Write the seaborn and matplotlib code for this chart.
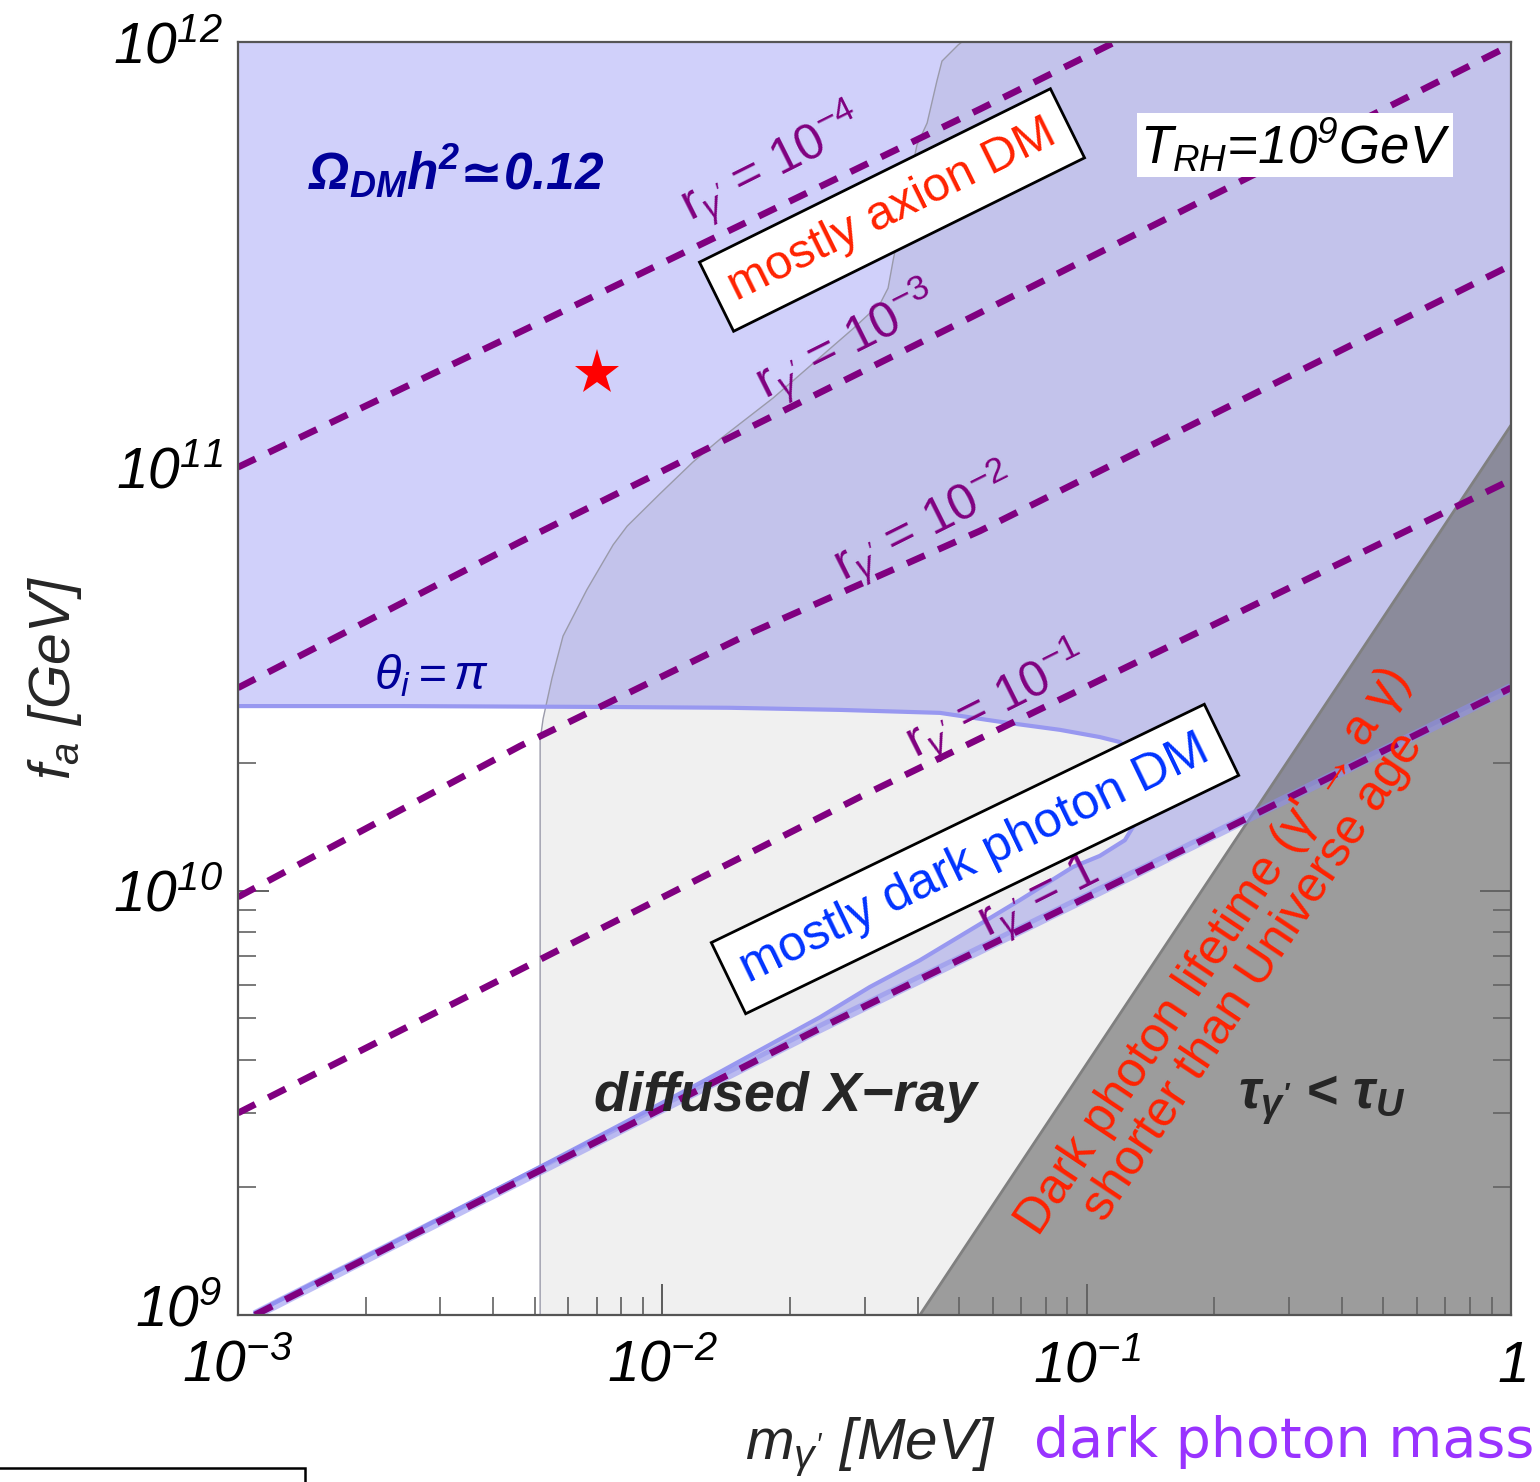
import numpy as np
import pandas as pd
import matplotlib
matplotlib.use("Agg")
import matplotlib.pyplot as plt
import matplotlib.transforms as mtransforms
import seaborn as sns

# ---------------- data (log10 values) ----------------
r_texts = ["10^{-4}", "10^{-3}", "10^{-2}", "10^{-1}", "1"]
r4_logm = [-3.0, -2.312, -1.251, -0.933]
r4_logf = [10.998, 11.328, 11.842, 12.0]
r3_logm = [-3.0, -2.335, -1.275, 0.0]
r3_logf = [10.478, 10.822, 11.350, 11.993]
r2_logm = [-3.0, -2.335, -1.786, -1.251, 0.0]
r2_logf = [9.985, 10.341, 10.610, 10.848, 11.474]
r1_logm = [-3.0, -1.534, 0.0]
r1_logf = [9.476, 10.221, 10.968]
r0_logm = [-2.960, -2.286, -1.628, -0.921, 0.0]
r0_logf = [9.000, 9.342, 9.676, 10.023, 10.478]

# theta_i = pi boundary of the relic-abundance region (continues as sliver above r=1)
theta_logm = [-3.0, -2.618, -2.147, -1.841, -1.581, -1.346, -1.204, -1.063, -0.969,
              -0.921, -0.879, -0.863, -0.874, -0.910, -0.969, -1.032, -1.157, -1.275,
              -1.393, -1.511, -1.628, -1.911, -2.265, -2.618, -2.960]
theta_logf = [10.435, 10.435, 10.433, 10.431, 10.426, 10.419, 10.398, 10.379, 10.362,
              10.350, 10.296, 10.237, 10.178, 10.119, 10.082, 10.056, 9.978, 9.907,
              9.836, 9.773, 9.702, 9.547, 9.361, 9.179, 9.005]

# diffuse X-ray bound
xray_logm = [-2.288, -2.288, -2.281, -2.260, -2.234, -2.178, -2.116, -2.083, -2.006,
             -1.928, -1.864, -1.739, -1.551, -1.487, -1.468, -1.456, -1.400, -1.376,
             -1.353, -1.341, -1.303, -1.294]
xray_logf = [9.0, 10.355, 10.405, 10.501, 10.600, 10.709, 10.815, 10.859, 10.935,
             11.010, 11.064, 11.161, 11.324, 11.383, 11.420, 11.486, 11.757, 11.809,
             11.908, 11.955, 11.993, 12.0]

# dark photon lifetime shorter than Universe age
life_logm = [-1.393, 0.0]
life_logf = [9.0, 11.097]

star_m = [7.0e-3]
star_f = [1.66e11]

# ---------------- style ----------------
sns.set_theme(style="ticks")
plt.rcParams["font.family"] = ["Liberation Sans", "DejaVu Sans"]
plt.rcParams["mathtext.fontset"] = "custom"
plt.rcParams["mathtext.rm"] = "Liberation Sans:italic"
plt.rcParams["mathtext.it"] = "Liberation Sans:italic"
plt.rcParams["mathtext.bf"] = "Liberation Sans:bold:italic"
plt.rcParams["mathtext.sf"] = "Liberation Sans"

W, H = 1540, 1482
fig = plt.figure(figsize=(W / 100, H / 100), dpi=100)
L, R, T, B = 238, 1511, 42, 1315
ax = fig.add_axes([L / W, 1 - B / H, (R - L) / W, (B - T) / H])
ax.set_xscale("log")
ax.set_yscale("log")
ax.set_xlim(1e-3, 1)
ax.set_ylim(1e9, 1e12)

p = lambda a: 10 ** np.asarray(a, dtype=float)

# relic region (lavender)
reg_m = np.concatenate([[-3.0, 0.0], r0_logm[::-1], theta_logm[::-1]])
reg_f = np.concatenate([[12.0, 12.0], r0_logf[::-1], theta_logf[::-1]])
ax.fill(p(reg_m), p(reg_f), color="#d0d0fa", lw=0, zorder=1)

# X-ray region overlay
xr_m = np.concatenate([xray_logm, [0.0, 0.0]])
xr_f = np.concatenate([xray_logf, [12.0, 9.0]])
ax.fill(p(xr_m), p(xr_f), color="black", alpha=0.06, lw=0, zorder=2)
ax.plot(p(xray_logm), p(xray_logf), color="#9a9aaa", lw=1.0, zorder=3)

# lifetime region
lt_m = np.concatenate([life_logm, [0.0]])
lt_f = np.concatenate([life_logf, [9.0]])
ax.fill(p(lt_m), p(lt_f), color="#686868", alpha=0.61, lw=0, zorder=3)
ax.plot(p(life_logm), p(life_logf), color="#808080", lw=2.0, zorder=4)

# boundary strokes of relic region
ax.plot(p(theta_logm), p(theta_logf), color="#9898f0", lw=3.0, zorder=4)
ax.plot(p(r0_logm), p(r0_logf), color="#8c8cf0", lw=7, alpha=0.55, zorder=4,
        solid_capstyle="butt")

# dashed r lines with seaborn
lines = [(r4_logm, r4_logf), (r3_logm, r3_logf), (r2_logm, r2_logf),
         (r1_logm, r1_logf), (r0_logm, r0_logf)]
for lm, lf in lines:
    df = pd.DataFrame({"m": p(lm), "f": p(lf)})
    sns.lineplot(data=df, x="m", y="f", ax=ax, color="#800080", lw=4.8,
                 sort=False, estimator=None, zorder=5,
                 linestyle=(0, (2.9, 2.2)), dash_capstyle="butt")

# star
ax.plot(star_m, star_f, marker="*", color="red", markersize=34, ls="none", zorder=6,
        markeredgewidth=0)

# ---------------- axes styling ----------------
xt = [1e-3, 1e-2, 1e-1, 1]
ax.set_xticks(xt)
ax.set_xticklabels([r"$10^{-3}$", r"$10^{-2}$", r"$10^{-1}$", r"$1$"])
yt = [1e9, 1e10, 1e11, 1e12]
ax.set_yticks(yt)
ax.set_yticklabels([r"$10^{9}$", r"$10^{10}$", r"$10^{11}$", r"$10^{12}$"])
ax.xaxis.set_minor_locator(matplotlib.ticker.LogLocator(base=10, subs=np.arange(2, 10)))
ax.yaxis.set_minor_locator(matplotlib.ticker.LogLocator(base=10, subs=np.arange(2, 10)))
ax.xaxis.set_minor_formatter(matplotlib.ticker.NullFormatter())
ax.yaxis.set_minor_formatter(matplotlib.ticker.NullFormatter())
ax.tick_params(which="major", direction="in", length=22, width=1.3, color="#555555",
               top=True, right=True, labelsize=41, pad=11, labelcolor="black")
ax.tick_params(which="minor", direction="in", length=13, width=1.1, color="#555555",
               top=True, right=True)
ax.tick_params(axis="x", which="major", pad=18)
for s in ax.spines.values():
    s.set_color("#555555")
    s.set_linewidth(1.6)
    s.set_zorder(10)
ax.set_xlabel("")
ax.set_ylabel("")
# lift the lowest y label a little so it clears the first x label
lab9 = ax.get_yticklabels()[0]
lab9.set_transform(lab9.get_transform() +
                   mtransforms.ScaledTranslation(0, 7 / 72, fig.dpi_scale_trans))

# ---------------- texts ----------------
def fx(px):
    return (px - L) / (R - L)

def fy(py):
    return (B - py) / (B - T)

ax.text(fx(456), fy(172), r"$\mathbf{\Omega_{DM}h^2}$≃$\mathbf{0.12}$",
        transform=ax.transAxes, ha="center", va="center", fontsize=37, color="#000099",
        weight="bold", style="italic", family="DejaVu Sans", zorder=8)
ax.text(fx(432), fy(676), r"$\theta_i{=}\pi$", transform=ax.transAxes,
        ha="center", va="center", fontsize=35, color="#000099", zorder=8)
ax.text(fx(1295), fy(145), r"$T_{RH}$=10$^9$GeV", transform=ax.transAxes,
        ha="center", va="center", fontsize=38, style="italic", color="black", zorder=8,
        bbox=dict(boxstyle="square,pad=0.06", fc="white", ec="none"))
ax.text(fx(785), fy(1097), "diffused X\u2212ray", transform=ax.transAxes,
        ha="center", va="center", fontsize=40, style="italic", weight="bold", zorder=8)
ax.text(fx(1322), fy(1100), r"$\mathbf{\tau_{\gamma'}}$ < $\mathbf{\tau_U}$",
        transform=ax.transAxes, ha="center", va="center", fontsize=39,
        style="italic", weight="bold", zorder=8)

ax.text(fx(892), fy(210), "mostly axion DM", transform=ax.transAxes, rotation=26.3,
        rotation_mode="anchor", ha="center", va="center", fontsize=35, color="#ff2200",
        zorder=9, bbox=dict(boxstyle="square,pad=0.33", fc="white", ec="black", lw=2))
ax.text(fx(975), fy(859), "mostly dark photon DM", transform=ax.transAxes, rotation=25.8,
        rotation_mode="anchor", ha="center", va="center", fontsize=36, color="#0033ff",
        zorder=9, bbox=dict(boxstyle="square,pad=0.33", fc="white", ec="black", lw=2))

r_pos = [(772, 165), (847, 343), (925, 525), (997, 702), (1040, 900)]
for txt, (px, py) in zip(r_texts, r_pos):
    ax.text(fx(px), fy(py), r"r$_{\gamma'}$ = $\mathsf{" + txt + r"}$",
            transform=ax.transAxes, rotation=26.6, rotation_mode="anchor",
            ha="center", va="center", fontsize=36, color="#800080", zorder=7)

ax.text(fx(1234), fy(964), "Dark photon lifetime (\u03b3' \u2192 a \u03b3)\nshorter than Universe age",
        transform=ax.transAxes, rotation=56.3, rotation_mode="anchor", ha="center",
        va="center", multialignment="center", fontsize=36, color="#ff2200", zorder=8,
        linespacing=1.05)

# axis labels
fig.text(55 / W, 1 - 678 / H, r"$f_a$ [GeV]", rotation=90, ha="center", va="center",
         fontsize=41, style="italic")
fig.text(745 / W, 1 - 1447 / H, r"$m_{\gamma'}$ [MeV]", ha="left", va="center",
         fontsize=42, style="italic")
fig.text(1534 / W, 1 - 1442 / H, "dark photon mass", ha="right", va="center",
         fontsize=40, color="#9933ff", family=["DejaVu Sans"])

# partial box at bottom left
fig.patches.append(matplotlib.patches.Rectangle((-0.01, -0.05), (305 + 15) / W, (1482 - 1468) / H + 0.05,
                                               transform=fig.transFigure, fill=False,
                                               ec="black", lw=1.8))

fig.savefig("out.png", dpi=100)
